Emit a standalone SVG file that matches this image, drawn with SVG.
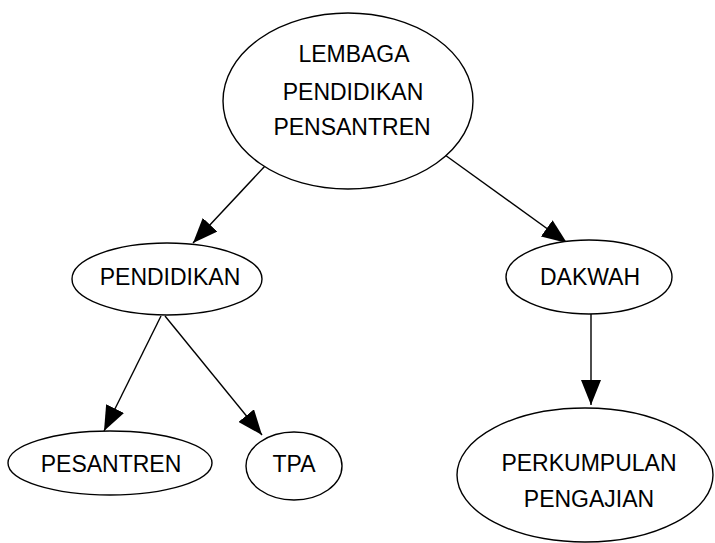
<svg xmlns="http://www.w3.org/2000/svg" width="715" height="543" viewBox="0 0 715 543">
<style>
.n{fill:#fff;stroke:#000;stroke-width:1.4}
.t{font-family:"Liberation Sans",Arial,sans-serif;font-size:23px;fill:#000;text-anchor:middle}
.c{stroke:#000;stroke-width:1.4;fill:none;marker-end:url(#ah)}
</style>
<defs>
<marker id="ah" viewBox="0 0 25 20" refX="25" refY="10" markerWidth="25" markerHeight="20" markerUnits="userSpaceOnUse" orient="auto">
<path d="M0,0 L25,10 L0,20 z" fill="#000"/>
</marker>
</defs>
<rect width="715" height="543" fill="#fff"/>
<g id="connectors">
<line class="c" x1="265" y1="166" x2="193" y2="243"/>
<line class="c" x1="445" y1="155" x2="567" y2="243"/>
<line class="c" x1="161" y1="316" x2="104" y2="431"/>
<line class="c" x1="165" y1="316" x2="262" y2="435"/>
<line class="c" x1="591" y1="314" x2="591" y2="405"/>
</g>
<g id="lembaga">
<ellipse class="n" cx="348" cy="101" rx="125" ry="88"/>
<text class="t" x="354" y="62">LEMBAGA</text>
<text class="t" x="353" y="100">PENDIDIKAN</text>
<text class="t" x="352" y="135">PENSANTREN</text>
</g>
<g id="pendidikan">
<ellipse class="n" cx="167" cy="279" rx="95" ry="36"/>
<text class="t" x="170" y="285">PENDIDIKAN</text>
</g>
<g id="dakwah">
<ellipse class="n" cx="589" cy="277" rx="83" ry="37"/>
<text class="t" x="590" y="285">DAKWAH</text>
</g>
<g id="pesantren">
<ellipse class="n" cx="110" cy="463" rx="102" ry="32"/>
<text class="t" x="111" y="472">PESANTREN</text>
</g>
<g id="tpa">
<ellipse class="n" cx="294" cy="466" rx="48" ry="34"/>
<text class="t" x="294" y="472">TPA</text>
</g>
<g id="perkumpulan">
<ellipse class="n" cx="585" cy="475" rx="128" ry="67"/>
<text class="t" x="589" y="471">PERKUMPULAN</text>
<text class="t" x="589" y="507">PENGAJIAN</text>
</g>
</svg>
